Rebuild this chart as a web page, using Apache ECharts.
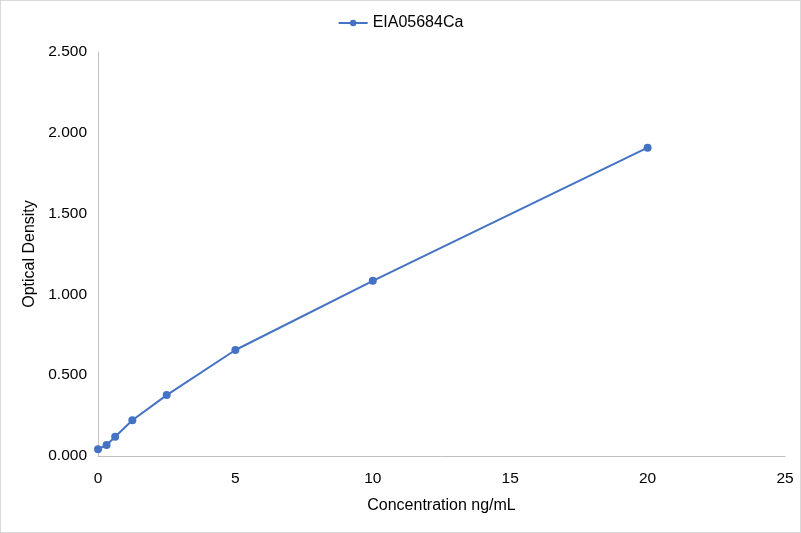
<!DOCTYPE html>
<html>
<head>
    <meta charset="UTF-8">
    <title>EIA05684Ca</title>
    <script src="https://cdn.jsdelivr.net/npm/echarts@6/dist/echarts.min.js"></script>
    <style>
        html, body { margin: 0; padding: 0; background: #fff; }
        #main { width: 799px; height: 531px; border: 1px solid #d9d9d9; }
    </style>
</head>
<body>
<div id="main"></div>
<script type="text/javascript">
    // 数据
    var seriesName = 'EIA05684Ca';
    var concentration = [0, 0.3125, 0.625, 1.25, 2.5, 5, 10, 20];
    var density = [0.041, 0.068, 0.119, 0.221, 0.377, 0.656, 1.084, 1.908];

    var myChart = echarts.init(document.getElementById('main'));

    var points = concentration.map(function (x, i) {
        return [x, density[i]];
    });

    var option = {
        animation: false,
        textStyle: { fontFamily: 'Liberation Sans' },
        legend: {
            top: 9,
            left: 'center',
            itemWidth: 29,
            itemHeight: 8,
            textStyle: { fontSize: 16, color: '#000' },
            data: [seriesName]
        },
        grid: { left: 97, right: 15, top: 51, bottom: 76 },
        xAxis: {
            type: 'value',
            min: 0,
            max: 25,
            interval: 5,
            name: 'Concentration ng/mL',
            nameLocation: 'middle',
            nameGap: 42,
            nameTextStyle: { fontSize: 16, color: '#000' },
            axisLine: { lineStyle: { color: '#bfbfbf' } },
            axisTick: { show: false },
            splitLine: { show: false },
            axisLabel: { fontSize: 15.5, color: '#000', margin: 15 }
        },
        yAxis: {
            type: 'value',
            min: 0,
            max: 2.5,
            interval: 0.5,
            name: 'Optical Density',
            nameLocation: 'middle',
            nameGap: 59,
            nameTextStyle: { fontSize: 16, color: '#000' },
            axisLine: { show: true, lineStyle: { color: '#bfbfbf' } },
            axisTick: { show: false },
            splitLine: { show: false },
            axisLabel: {
                fontSize: 15.5,
                color: '#000',
                margin: 11,
                formatter: function (v) { return v.toFixed(3); }
            }
        },
        series: [{
            name: seriesName,
            type: 'line',
            data: points,
            symbol: 'circle',
            symbolSize: 8,
            itemStyle: { color: '#4472c4' },
            lineStyle: { width: 2, color: '#4472c4' }
        }]
    };

    myChart.setOption(option);
</script>
</body>
</html>
